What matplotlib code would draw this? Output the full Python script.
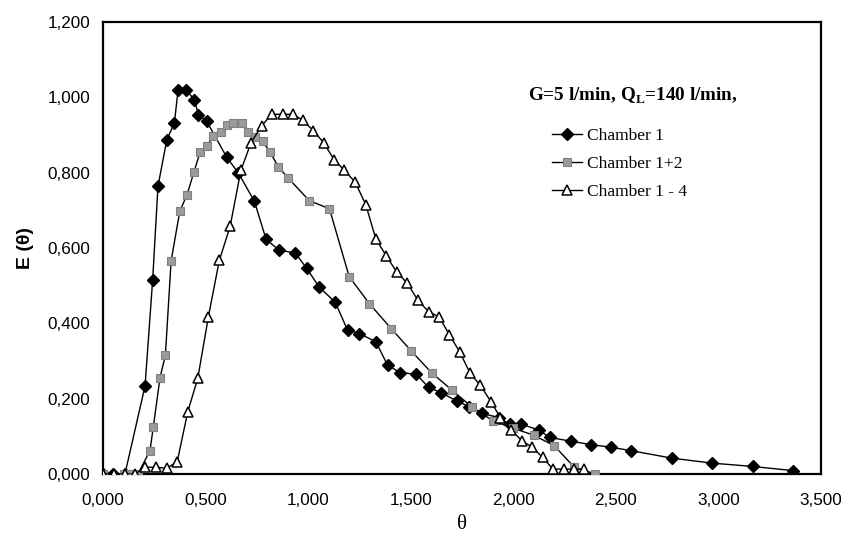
import matplotlib
matplotlib.use("Agg")
import matplotlib.pyplot as plt
from matplotlib.ticker import FuncFormatter

# ---- data ----
theta_c1 = [0.0, 0.05, 0.107, 0.205, 0.242, 0.268, 0.311, 0.348, 0.366, 0.405, 0.446,
            0.465, 0.506, 0.603, 0.660, 0.738, 0.795, 0.859, 0.937, 0.993, 1.054,
            1.132, 1.192, 1.250, 1.330, 1.387, 1.449, 1.527, 1.587, 1.647, 1.725,
            1.782, 1.847, 1.928, 1.982, 2.039, 2.124, 2.178, 2.282, 2.379, 2.477,
            2.574, 2.774, 2.967, 3.167, 3.363]
e_c1 = [0.0, 0.0, 0.0, 0.234, 0.515, 0.764, 0.887, 0.932, 1.020, 1.020, 0.993,
        0.954, 0.936, 0.841, 0.799, 0.724, 0.623, 0.594, 0.587, 0.546, 0.496,
        0.456, 0.382, 0.373, 0.351, 0.289, 0.269, 0.265, 0.230, 0.216, 0.194,
        0.179, 0.161, 0.150, 0.132, 0.132, 0.117, 0.097, 0.087, 0.078, 0.071,
        0.062, 0.042, 0.029, 0.020, 0.009]

theta_c12 = [0.0, 0.10, 0.13, 0.17, 0.229, 0.245, 0.278, 0.304, 0.332, 0.374, 0.410,
             0.444, 0.473, 0.506, 0.538, 0.574, 0.603, 0.636, 0.677, 0.709, 0.741,
             0.779, 0.815, 0.855, 0.904, 1.005, 1.104, 1.200, 1.299, 1.405, 1.502,
             1.603, 1.701, 1.798, 1.901, 1.998, 2.099, 2.200, 2.297, 2.400]
e_c12 = [0.0, 0.0, 0.0, 0.0, 0.062, 0.124, 0.256, 0.315, 0.565, 0.697, 0.742,
         0.803, 0.854, 0.870, 0.898, 0.909, 0.927, 0.933, 0.933, 0.909, 0.896,
         0.883, 0.854, 0.815, 0.785, 0.726, 0.704, 0.524, 0.452, 0.386, 0.327,
         0.268, 0.223, 0.178, 0.141, 0.122, 0.103, 0.075, 0.018, 0.0]

theta_c14 = [0.0, 0.054, 0.107, 0.156, 0.205, 0.257, 0.311, 0.362, 0.413, 0.462, 0.514,
             0.567, 0.620, 0.672, 0.722, 0.774, 0.823, 0.875, 0.925, 0.974, 1.026,
             1.075, 1.127, 1.177, 1.229, 1.281, 1.330, 1.380, 1.432, 1.484, 1.535,
             1.587, 1.639, 1.689, 1.738, 1.790, 1.839, 1.891, 1.937, 1.990, 2.042,
             2.091, 2.143, 2.193, 2.245, 2.298, 2.346]
e_c14 = [0.0, 0.0, 0.0, 0.0, 0.018, 0.018, 0.015, 0.033, 0.165, 0.254, 0.418,
         0.567, 0.658, 0.806, 0.880, 0.925, 0.955, 0.955, 0.955, 0.939, 0.911,
         0.880, 0.834, 0.806, 0.775, 0.715, 0.624, 0.580, 0.536, 0.506, 0.461,
         0.431, 0.417, 0.369, 0.325, 0.267, 0.236, 0.192, 0.150, 0.117, 0.088,
         0.072, 0.044, 0.013, 0.013, 0.013, 0.013]

labels = ["Chamber 1", "Chamber 1+2", "Chamber 1 - 4"]
x_ticks = [0.0, 0.5, 1.0, 1.5, 2.0, 2.5, 3.0, 3.5]
y_ticks = [0.0, 0.2, 0.4, 0.6, 0.8, 1.0, 1.2]

# ---- figure ----
fig = plt.figure(figsize=(8.55, 5.38), dpi=100)
ax = fig.add_axes([103 / 855, 1 - 474 / 538, (821 - 103) / 855, (474 - 22) / 538])

ax.plot(theta_c1, e_c1, color="black", lw=1.0, marker="D", ms=6,
        mfc="black", mec="black", label=labels[0], zorder=3)
ax.plot(theta_c12, e_c12, color="black", lw=1.0, marker="s", ms=6,
        mfc="#9a9a9a", mec="#808080", mew=0.8, label=labels[1], zorder=3)
ax.plot(theta_c14, e_c14, color="black", lw=1.0, marker="^", ms=7,
        mfc="white", mec="black", mew=1.1, label=labels[2], zorder=4)

ax.set_xlim(0, 3.5)
ax.set_ylim(0, 1.2)
ax.set_xticks(x_ticks)
ax.set_yticks(y_ticks)
fmt = FuncFormatter(lambda v, p: f"{v:.3f}".replace(".", ","))
ax.xaxis.set_major_formatter(fmt)
ax.yaxis.set_major_formatter(fmt)
ax.tick_params(axis="y", length=0, pad=9, labelsize=12.3)
ax.tick_params(axis="x", length=0, pad=14, labelsize=12.3)
for lab in ax.get_xticklabels() + ax.get_yticklabels():
    lab.set_fontfamily("Liberation Sans")

for s in ax.spines.values():
    s.set_linewidth(1.6)
    s.set_color("black")

ax.set_xlabel("θ", fontfamily="Liberation Serif", fontsize=15, labelpad=5)
ax.set_ylabel("E (θ)", fontfamily="Liberation Sans", fontsize=14,
              fontweight="bold", labelpad=10)

# legend
fig.text(528 / 855, 1 - 96 / 538, "G=5 l/min, Q$_\\mathregular{L}$=140 l/min,",
         fontfamily="Liberation Serif", fontweight="bold", fontsize=13.8,
         va="center", ha="left")
ax.legend(loc="upper left", bbox_to_anchor=(552 / 855, 1 - 128 / 538),
          bbox_transform=fig.transFigure, frameon=False,
          prop={"family": "Liberation Serif", "size": 12.5},
          handlelength=1.7, handletextpad=0.3, labelspacing=0.68,
          borderaxespad=0, borderpad=0)

fig.savefig("out.png", dpi=100)
